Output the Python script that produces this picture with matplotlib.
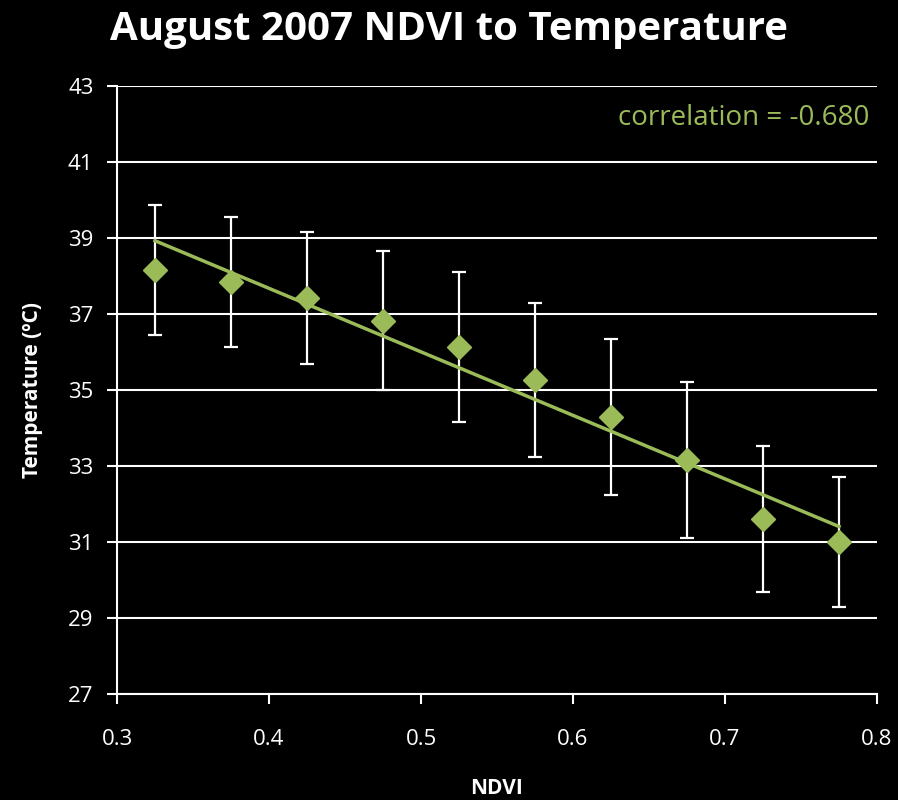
import matplotlib.pyplot as plt
import numpy as np

# data
ndvi = np.array([0.325, 0.375, 0.425, 0.475, 0.525, 0.575, 0.625, 0.675, 0.725, 0.775])
temp = np.array([38.16, 37.84, 37.42, 36.82, 36.13, 35.26, 34.29, 33.16, 31.60, 31.00])
err = np.array([1.72, 1.70, 1.73, 1.83, 1.97, 2.03, 2.05, 2.05, 1.92, 1.70])
y_ticks = [27, 29, 31, 33, 35, 37, 39, 41, 43]
x_ticks = [0.3, 0.4, 0.5, 0.6, 0.7, 0.8]

green = '#9BBB59'
plt.rcParams['font.family'] = ['Open Sans', 'DejaVu Sans']

fig = plt.figure(figsize=(8.98, 8.0), dpi=100, facecolor='black')
ax = fig.add_axes([0.1303, 0.1325, 0.8463, 0.76])
ax.set_facecolor('black')

ax.errorbar(ndvi, temp, yerr=err, fmt='none', ecolor='white',
            elinewidth=1.6, capsize=5, capthick=1.6, zorder=3)

# linear trend line
slope, intercept = np.polyfit(ndvi, temp, 1)
xs = np.array([ndvi[0], ndvi[-1]])
ax.plot(xs, slope * xs + intercept, color=green, lw=2.5, zorder=4)

ax.plot(ndvi, temp, linestyle='none', marker='D', markersize=12,
        color=green, zorder=5)

ax.set_xlim(0.3, 0.8)
ax.set_ylim(27, 43)
ax.set_xticks(x_ticks)
ax.set_yticks(y_ticks)
ax.set_xticklabels([f'{v:.1f}' for v in x_ticks])
ax.grid(axis='y', color='white', lw=1.5, zorder=1)
ax.set_axisbelow(True)

for s in ['top', 'right']:
    ax.spines[s].set_visible(False)
for s in ['left', 'bottom']:
    ax.spines[s].set_color('white')
    ax.spines[s].set_linewidth(1.5)
ax.tick_params(colors='white', labelsize=16, width=1.5, length=7)
ax.tick_params(axis='x', pad=18)
ax.tick_params(axis='y', pad=10)

ax.set_xlabel('NDVI', color='white', fontsize=15, fontweight='bold', labelpad=20)
ax.set_ylabel('Temperature (ºC)', color='white', fontsize=15, fontweight='bold', labelpad=18)

fig.text(0.5, 0.988, 'August 2007 NDVI to Temperature', color='white',
         fontsize=29, fontweight='bold', ha='center', va='top')
ax.text(0.99, 0.97, 'correlation = -0.680', color=green, fontsize=20,
        ha='right', va='top', transform=ax.transAxes)

fig.savefig('out.png', dpi=100, facecolor='black')
